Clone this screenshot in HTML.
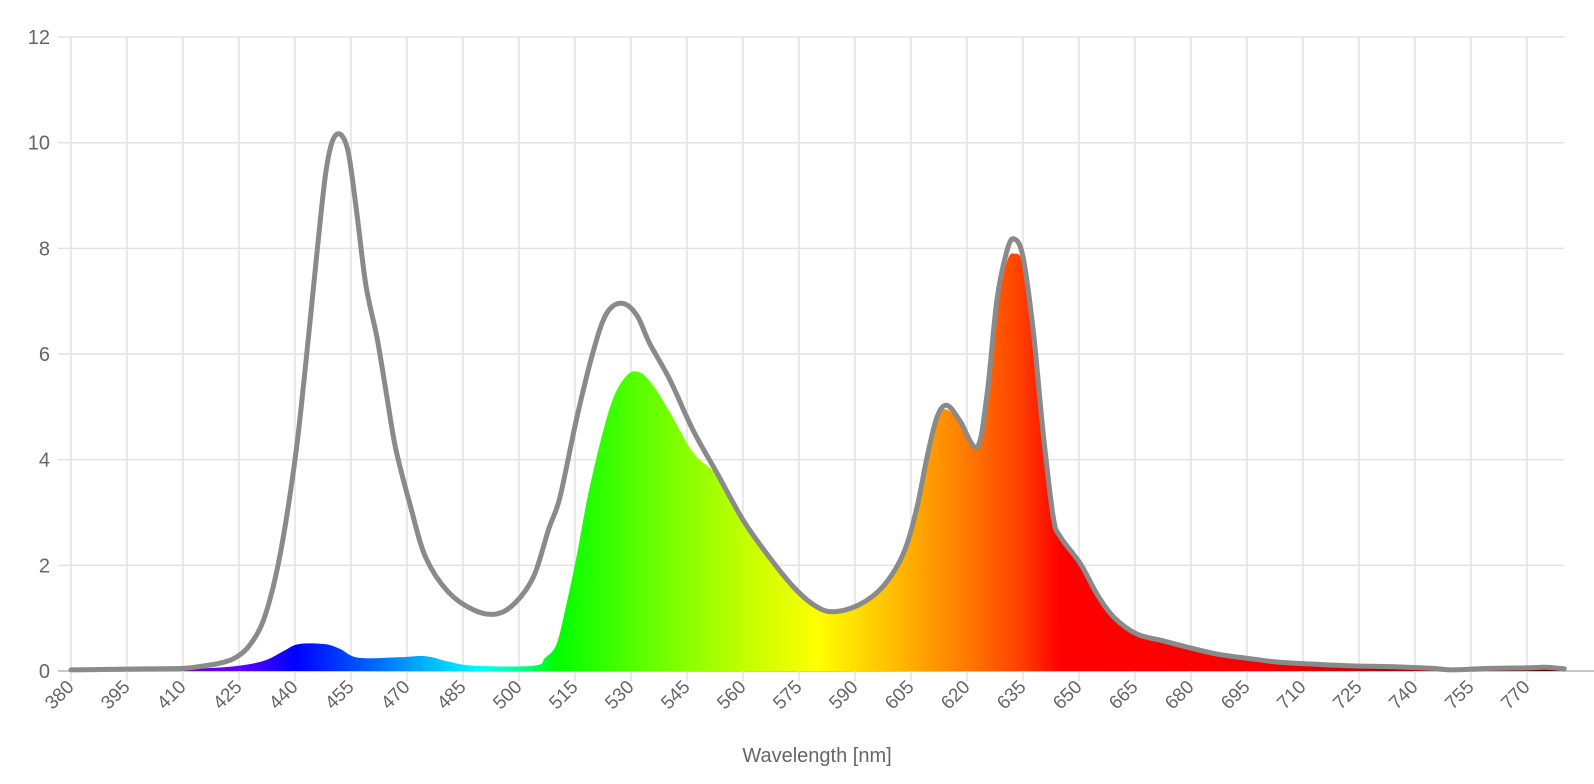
<!DOCTYPE html>
<html><head><meta charset="utf-8"><style>
html,body{margin:0;padding:0;background:#fff;}
svg{display:block;font-family:"Liberation Sans",Arial,sans-serif;}
</style></head><body>
<svg id="chart" width="1594" height="784" viewBox="0 0 1594 784" xmlns="http://www.w3.org/2000/svg">
<defs>
<linearGradient id="spec" gradientUnits="userSpaceOnUse" x1="71" y1="0" x2="1564" y2="0"></linearGradient>
</defs>
<g id="grid"></g>
<g id="yaxis"></g>
<g id="xaxis"></g>
<path id="fillArea" fill="url(#spec)" stroke="none"></path>
<path id="totalLine" fill="none" stroke="#8a8a8a" stroke-width="5" stroke-linejoin="round" stroke-linecap="round"></path>
<text x="817" y="762" text-anchor="middle" font-size="20" fill="#666">Wavelength [nm]</text>
</svg>
<script>
const totalWl = [380,390,400,410,415,420,424,428,432,436,440,443,446,448.5,451,454,456.5,459,462,464.6,467,471,475,481,488,494,499,504,508,511,515.5,520,523.5,527.5,531.5,535,540.5,546.6,553,560,567,573.4,579,584,591,597.5,603,606.6,609.3,612,614.6,618,622.7,625.4,628,630.7,632.6,635,637.8,640.4,643.1,645,650.4,654.8,659.3,665.5,672.6,679.7,687,695,703,710,722,735,745,750,760,770,775,780];
const totalVal = [0.02,0.03,0.04,0.05,0.09,0.15,0.25,0.5,1.05,2.2,4.0,5.9,8.0,9.55,10.15,9.9,8.7,7.3,6.3,5.2,4.2,3.1,2.15,1.5,1.15,1.08,1.29,1.8,2.7,3.3,4.8,6.08,6.77,6.96,6.74,6.2,5.5,4.56,3.75,2.86,2.16,1.6,1.25,1.12,1.25,1.6,2.23,3.1,4.05,4.81,5.03,4.75,4.24,5.26,7.02,7.95,8.18,7.84,6.4,4.5,2.92,2.54,2.03,1.46,1.02,0.7,0.57,0.44,0.32,0.24,0.17,0.14,0.1,0.08,0.05,0.02,0.05,0.06,0.07,0.04];
const fillWl = [380,400,415,425,432,437,441,448,452,457,468,475,481,488,504,507,510,512.5,515.5,519,524.4,528.8,532.4,536,540.4,546.7,553,560,567,573.4,579,584,591,597.5,603,606.6,609.3,612,614.6,618,622.7,625.4,628,630.7,632.6,635,637.8,640.4,643.1,645,650.4,654.8,659.3,665.5,672.6,679.7,687,695,703,710,722,735,745,750,760,770,775,780];
const fillVal = [0.02,0.03,0.05,0.1,0.2,0.38,0.51,0.51,0.42,0.25,0.26,0.28,0.18,0.1,0.1,0.25,0.5,1.2,2.2,3.5,5.0,5.59,5.65,5.4,4.9,4.13,3.7,2.84,2.16,1.6,1.25,1.12,1.25,1.6,2.23,3.1,4.05,4.81,4.95,4.7,4.24,5.2,6.9,7.75,7.9,7.7,6.4,4.5,2.92,2.54,2.03,1.46,1.02,0.7,0.57,0.44,0.32,0.24,0.17,0.14,0.1,0.08,0.05,0.02,0.05,0.06,0.07,0.04];
const xTicks = [380,395,410,425,440,455,470,485,500,515,530,545,560,575,590,605,620,635,650,665,680,695,710,725,740,755,770];
const yTicks = [0,2,4,6,8,10,12];
const gradWl = [380,410,425,440,460,475,490,500,510,530,560,580,600,620,635,645,700,740,780];
const gradCol = ["#3a004e","#6a00b8","#6000ff","#0000ff","#0060ff","#00b4ff","#00ffff","#00ff90","#00ff00","#50ff00","#c0ff00","#ffff00","#ffbe00","#ff7a00","#ff3c00","#ff0000","#f80000","#b00000","#600000"];

const NS="http://www.w3.org/2000/svg";
const X0=71, PXNM=56/15, Y0=671, PXU=52.83;
function xs(w){return X0+(w-380)*PXNM;}
function ys(v){return Y0-v*PXU;}
function mk(tag,attrs,parent){const e=document.createElementNS(NS,tag);for(const k in attrs)e.setAttribute(k,attrs[k]);parent.appendChild(e);return e;}

const grad=document.getElementById('spec');
gradWl.forEach((w,i)=>{
  const s=mk('stop',{offset:((w-380)/400).toFixed(4),'stop-color':gradCol[i]},grad);
  
  
});

const grid=document.getElementById('grid');
yTicks.forEach(v=>{
  const l=mk('line',{x1:58,x2:xs(780),y1:ys(v),y2:ys(v),stroke:v===0?'#c8c8c8':'#e2e2e2','stroke-width':v===0?2:1.5},grid);
  
  
});
xTicks.forEach(w=>{
  const l=mk('line',{x1:xs(w),x2:xs(w),y1:ys(12),y2:Y0+10,stroke:'#e2e2e2','stroke-width':1.5},grid);
  
  
});
const ax=mk('line',{x1:xs(780),x2:1594,y1:Y0,y2:Y0,stroke:'#c8c8c8','stroke-width':2},grid);



const ya=document.getElementById('yaxis');
yTicks.forEach(v=>{
  const t=mk('text',{x:50,y:ys(v)+7,'text-anchor':'end','font-size':20,fill:'#666'},ya);
  t.textContent=v;
  
  
});
const xa=document.getElementById('xaxis');
xTicks.forEach(w=>{
  const x=xs(w)+4, y=688;
  const t=mk('text',{x:x,y:y,'text-anchor':'end','font-size':19,fill:'#666',transform:'rotate(-45 '+x+' '+y+')'},xa);
  t.textContent=w;
  
  
});

function smooth(pts){
  let d='M'+pts[0][0].toFixed(1)+','+pts[0][1].toFixed(1);
  for(let i=0;i<pts.length-1;i++){
    const p0=pts[Math.max(0,i-1)],p1=pts[i],p2=pts[i+1],p3=pts[Math.min(pts.length-1,i+2)];
    const c1x=p1[0]+(p2[0]-p0[0])/6,c1y=p1[1]+(p2[1]-p0[1])/6;
    const c2x=p2[0]-(p3[0]-p1[0])/6,c2y=p2[1]-(p3[1]-p1[1])/6;
    d+=' C'+c1x.toFixed(1)+','+c1y.toFixed(1)+' '+c2x.toFixed(1)+','+c2y.toFixed(1)+' '+p2[0].toFixed(1)+','+p2[1].toFixed(1);
  }
  return d;
}
const fp=fillWl.map((w,i)=>[xs(w),ys(fillVal[i])]);
document.getElementById('fillArea').setAttribute('d',smooth(fp)+' L'+xs(780)+','+Y0+' L'+xs(380)+','+Y0+' Z');
const tp=totalWl.map((w,i)=>[xs(w),ys(totalVal[i])]);
document.getElementById('totalLine').setAttribute('d',smooth(tp));
</script>
</body></html>
